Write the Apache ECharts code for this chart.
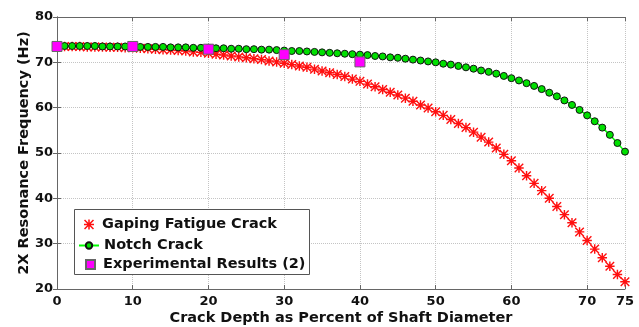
<!DOCTYPE html>
<html>
<head>
<meta charset="utf-8">
<script src="https://cdn.jsdelivr.net/npm/echarts@6/dist/echarts.min.js"></script>
<style>
html,body{margin:0;padding:0;background:#fff;}
#chart{width:639px;height:327px;}
</style>
</head>
<body>
<div id="chart"></div>
<script>
// ---- data ----
const depth = [0,1,2,3,4,5,6,7,8,9,10,11,12,13,14,15,16,17,18,19,20,21,22,23,24,25,26,27,28,29,30,31,32,33,34,35,36,37,38,39,40,41,42,43,44,45,46,47,48,49,50,51,52,53,54,55,56,57,58,59,60,61,62,63,64,65,66,67,68,69,70,71,72,73,74,75];
const gapingCrack = [73.5,73.5,73.5,73.5,73.4,73.4,73.4,73.3,73.3,73.2,73.2,73.1,73.0,72.9,72.8,72.7,72.6,72.5,72.3,72.2,72.0,71.8,71.6,71.4,71.2,71.0,70.8,70.6,70.3,70.1,69.8,69.5,69.2,68.9,68.5,68.1,67.7,67.3,66.9,66.3,65.8,65.2,64.6,64.0,63.4,62.8,62.1,61.4,60.6,59.9,59.1,58.3,57.4,56.5,55.6,54.6,53.5,52.4,51.1,49.7,48.3,46.7,45.0,43.3,41.7,40.0,38.2,36.4,34.6,32.6,30.7,28.8,26.9,25.0,23.2,21.6];
const notchCrack = [73.6,73.6,73.6,73.6,73.6,73.6,73.5,73.5,73.5,73.5,73.5,73.4,73.4,73.4,73.4,73.3,73.3,73.3,73.2,73.2,73.2,73.1,73.1,73.0,73.0,72.9,72.9,72.8,72.8,72.7,72.6,72.5,72.5,72.4,72.3,72.2,72.1,72.0,71.9,71.8,71.7,71.6,71.4,71.3,71.1,71.0,70.8,70.6,70.4,70.2,70.0,69.7,69.5,69.2,68.9,68.6,68.2,67.9,67.5,67.0,66.5,66.0,65.4,64.8,64.1,63.3,62.5,61.6,60.6,59.5,58.3,57.0,55.6,54.0,52.2,50.3];
const expDepth = [0,10,20,30,40];
const expFreq = [73.5,73.5,72.9,71.7,70.1];
const seriesNames = ['Gaping Fatigue Crack','Notch Crack','Experimental Results (2)'];
const xTitle = 'Crack Depth as Percent of Shaft Diameter';
const yTitle = '2X Resonance Frequency (Hz)';

const starPath = 'path://M8.5 0L11.5 0L11.5 20L8.5 20Z M0 8.5L20 8.5L20 11.5L0 11.5Z M0 2.1L2.1 0L20 17.9L17.9 20Z M17.9 0L20 2.1L2.1 20L0 17.9Z';
const FONT = 'DejaVu Sans';

const zip = (xs, ys) => xs.map((x, i) => [x, ys[i]]);

const chart = echarts.init(document.getElementById('chart'), null, {renderer: 'canvas'});

const axisLineStyle = {color: '#666', width: 1};
const gridLine = {show: true, lineStyle: {color: '#c4c4c4', type: 'dotted', width: 1}};

const option = {
  animation: false,
  backgroundColor: '#fff',
  grid: {left: 57, right: 14, top: 17, bottom: 38, containLabel: false, outerBoundsMode: 'none'},
  xAxis: [{
    type: 'value', min: 0, max: 75, interval: 10, position: 'bottom',
    name: xTitle, nameLocation: 'middle', nameGap: 22, nameMoveOverlap: false,
    nameTextStyle: {fontFamily: FONT, fontWeight: 'bold', fontSize: 14.5, color: '#111'},
    axisLine: {show: true, lineStyle: axisLineStyle},
    axisTick: {show: true, inside: true, length: 4, lineStyle: axisLineStyle},
    axisLabel: {fontFamily: FONT, fontWeight: 'bold', fontSize: 13, color: '#111', margin: 6, showMinLabel: true, showMaxLabel: true},
    splitLine: gridLine
  }, {
    type: 'value', min: 0, max: 75, interval: 10, position: 'top',
    axisLine: {show: true, lineStyle: axisLineStyle},
    axisTick: {show: true, inside: true, length: 4, lineStyle: axisLineStyle},
    axisLabel: {show: false}, splitLine: {show: false}
  }],
  yAxis: [{
    type: 'value', min: 20, max: 80, interval: 10, position: 'left',
    name: yTitle, nameLocation: 'middle', nameGap: 25, nameMoveOverlap: false,
    nameTextStyle: {fontFamily: FONT, fontWeight: 'bold', fontSize: 14.5, color: '#111'},
    axisLine: {show: true, lineStyle: axisLineStyle},
    axisTick: {show: true, inside: true, length: 4, lineStyle: axisLineStyle},
    axisLabel: {fontFamily: FONT, fontWeight: 'bold', fontSize: 13, color: '#111', margin: 4, showMinLabel: true, showMaxLabel: true},
    splitLine: gridLine
  }, {
    type: 'value', min: 20, max: 80, interval: 10, position: 'right',
    axisLine: {show: true, lineStyle: axisLineStyle},
    axisTick: {show: true, inside: true, length: 4, lineStyle: axisLineStyle},
    axisLabel: {show: false}, splitLine: {show: false}
  }],
  graphic: [{
    type: 'rect', z: 3,
    shape: {x: 74.5, y: 209.5, width: 235, height: 65},
    style: {fill: '#fff', stroke: '#555', lineWidth: 1}
  }],
  legend: [{
    data: [{name: seriesNames[0], icon: starPath}],
    left: 84, top: 217, itemWidth: 10, itemHeight: 10, padding: 0, selectedMode: false,
    textStyle: {fontFamily: FONT, fontWeight: 'bold', fontSize: 14.5, color: '#111', padding: [0, 0, 0, 3]}
  }, {
    data: [seriesNames[1]],
    left: 78, top: 238, itemWidth: 20, itemHeight: 8, padding: 0, selectedMode: false,
    textStyle: {fontFamily: FONT, fontWeight: 'bold', fontSize: 14.5, color: '#111'}
  }, {
    data: [{name: seriesNames[2], icon: 'rect'}],
    left: 85, top: 257, itemWidth: 9, itemHeight: 9, padding: 0, selectedMode: false,
    textStyle: {fontFamily: FONT, fontWeight: 'bold', fontSize: 14.5, color: '#111', padding: [0, 0, 0, 3]}
  }],
  series: [{
    name: seriesNames[0], type: 'scatter', xAxisIndex: 0, yAxisIndex: 0, z: 2,
    symbol: starPath, symbolSize: 9.5, symbolKeepAspect: true,
    itemStyle: {color: '#ff1010', opacity: 1},
    data: zip(depth, gapingCrack)
  }, {
    name: seriesNames[1], type: 'line', xAxisIndex: 0, yAxisIndex: 0, z: 3,
    symbol: 'circle', symbolSize: 7, showAllSymbol: true,
    lineStyle: {color: '#00ff00', width: 1.5},
    itemStyle: {color: '#00e000', borderColor: '#111', borderWidth: 1},
    data: zip(depth, notchCrack)
  }, {
    name: seriesNames[2], type: 'scatter', xAxisIndex: 0, yAxisIndex: 0, z: 5,
    symbol: 'rect', symbolSize: 10,
    itemStyle: {color: '#ff00ff', borderColor: '#666', borderWidth: 1, opacity: 1},
    data: zip(expDepth, expFreq)
  }]
};
chart.setOption(option);
</script>
</body>
</html>
